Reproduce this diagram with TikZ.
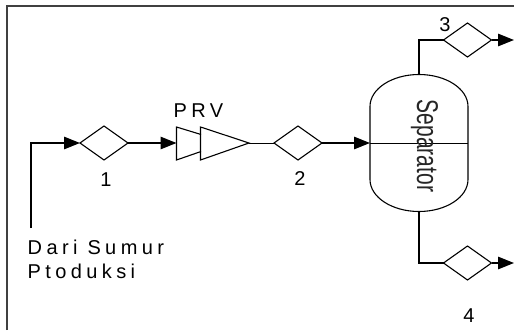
\documentclass[tikz,border=0pt]{standalone}
\usepackage{fontspec}
\setmainfont{Liberation Sans}
\usetikzlibrary{shapes.geometric,arrows.meta}
\tikzset{
  x=1pt,y=1pt,
  valve/.style={draw=black,diamond,line width=1.1pt,minimum width=48pt,minimum height=34pt,inner sep=0pt,outer sep=0pt},
  lbl/.style={font=\fontsize{20}{20}\selectfont,inner sep=0pt},
  spaced/.style={font=\addfontfeature{LetterSpace=22}\fontsize{20}{24}\selectfont,inner sep=0pt,anchor=west},
  pipe/.style={line width=1.2pt,line join=miter},
  flow/.style={pipe,-{Triangle[length=16pt,width=12.5pt]}},
  frameline/.style={draw=black!75,line width=1.7pt},
  equip/.style={draw=black,line width=1.1pt,line join=miter}
}
\begin{document}
\begin{tikzpicture}
\useasboundingbox (0,0) rectangle (514,330);
\fill[white] (0,0) rectangle (514,330);
% frame (open on the right and at the bottom)
\coordinate (fbl) at (6.7,0);
\coordinate (ftl) at (6.7,324);
\coordinate (ftr) at (514,324);
\draw[frameline] (fbl) -- (ftl) -- (ftr);
% valves
\node[valve] (v1) at (104,187) {};
\node[valve] (v2) at (298,187) {};
\node[valve] (v3) at (467.5,290) {};
\node[valve] (v4) at (467.5,67) {};
% PRV
\coordinate (prvin) at (176.5,187);
\coordinate (prvout) at (249,187);
\draw[equip] (201,195.5) -- (prvin |- 0,203) -- (prvin |- 0,170) -- (201,178.5);
\draw[equip] (200.5,203) -- (prvout) -- (200.5,170) -- cycle;
% separator
\node[minimum width=98pt,minimum height=137pt,inner sep=0pt,outer sep=0pt] (sep) at (419,187) {};
\draw[equip] ([yshift=-32pt]sep.north west) arc[start angle=180,end angle=0,x radius=49pt,y radius=32pt]
  -- ([yshift=32pt]sep.south east) arc[start angle=360,end angle=180,x radius=49pt,y radius=32pt] -- cycle;
\draw[line width=.9pt] (sep.west) -- (sep.east);
\node[inner sep=0pt,rotate=-90,font=\fontsize{30}{30}\selectfont,text=black!85] (septext) at (424.5,184) {\scalebox{.7}[1]{Separator}};
% pipes
\coordinate (src) at (31,102);
\coordinate (o3) at (514,290);
\coordinate (o4) at (514,67);
\draw[flow] (src) -- (src |- v1) -- (v1.west);
\draw[flow] (v1.east) -- (prvin);
\draw[line width=.8pt] (prvout) -- (v2.west);
\draw[flow] (v2.east) -- (sep.west);
\draw[pipe,line width=1.6pt] (sep.north) |- (v3.west);
\draw[pipe,line width=1.6pt] (sep.south) |- (v4.west);
\draw[flow] (v3.east) -- (o3);
\draw[flow] (v4.east) -- (o4);
% labels
\node[lbl] (l1) at (106,150) {1};
\node[lbl] (l2) at (300,151) {2};
\node[lbl] (l3) at (445,305) {3};
\node[lbl] (l4) at (469,14) {4};
\node[spaced] (lprv) at (173.5,219.5) {PRV};
\node[spaced] (ldari) at (27.5,82.5) {Dari Sumur};
\node[spaced] (lpto) at (27.5,59) {Ptoduksi};
\end{tikzpicture}
\end{document}
